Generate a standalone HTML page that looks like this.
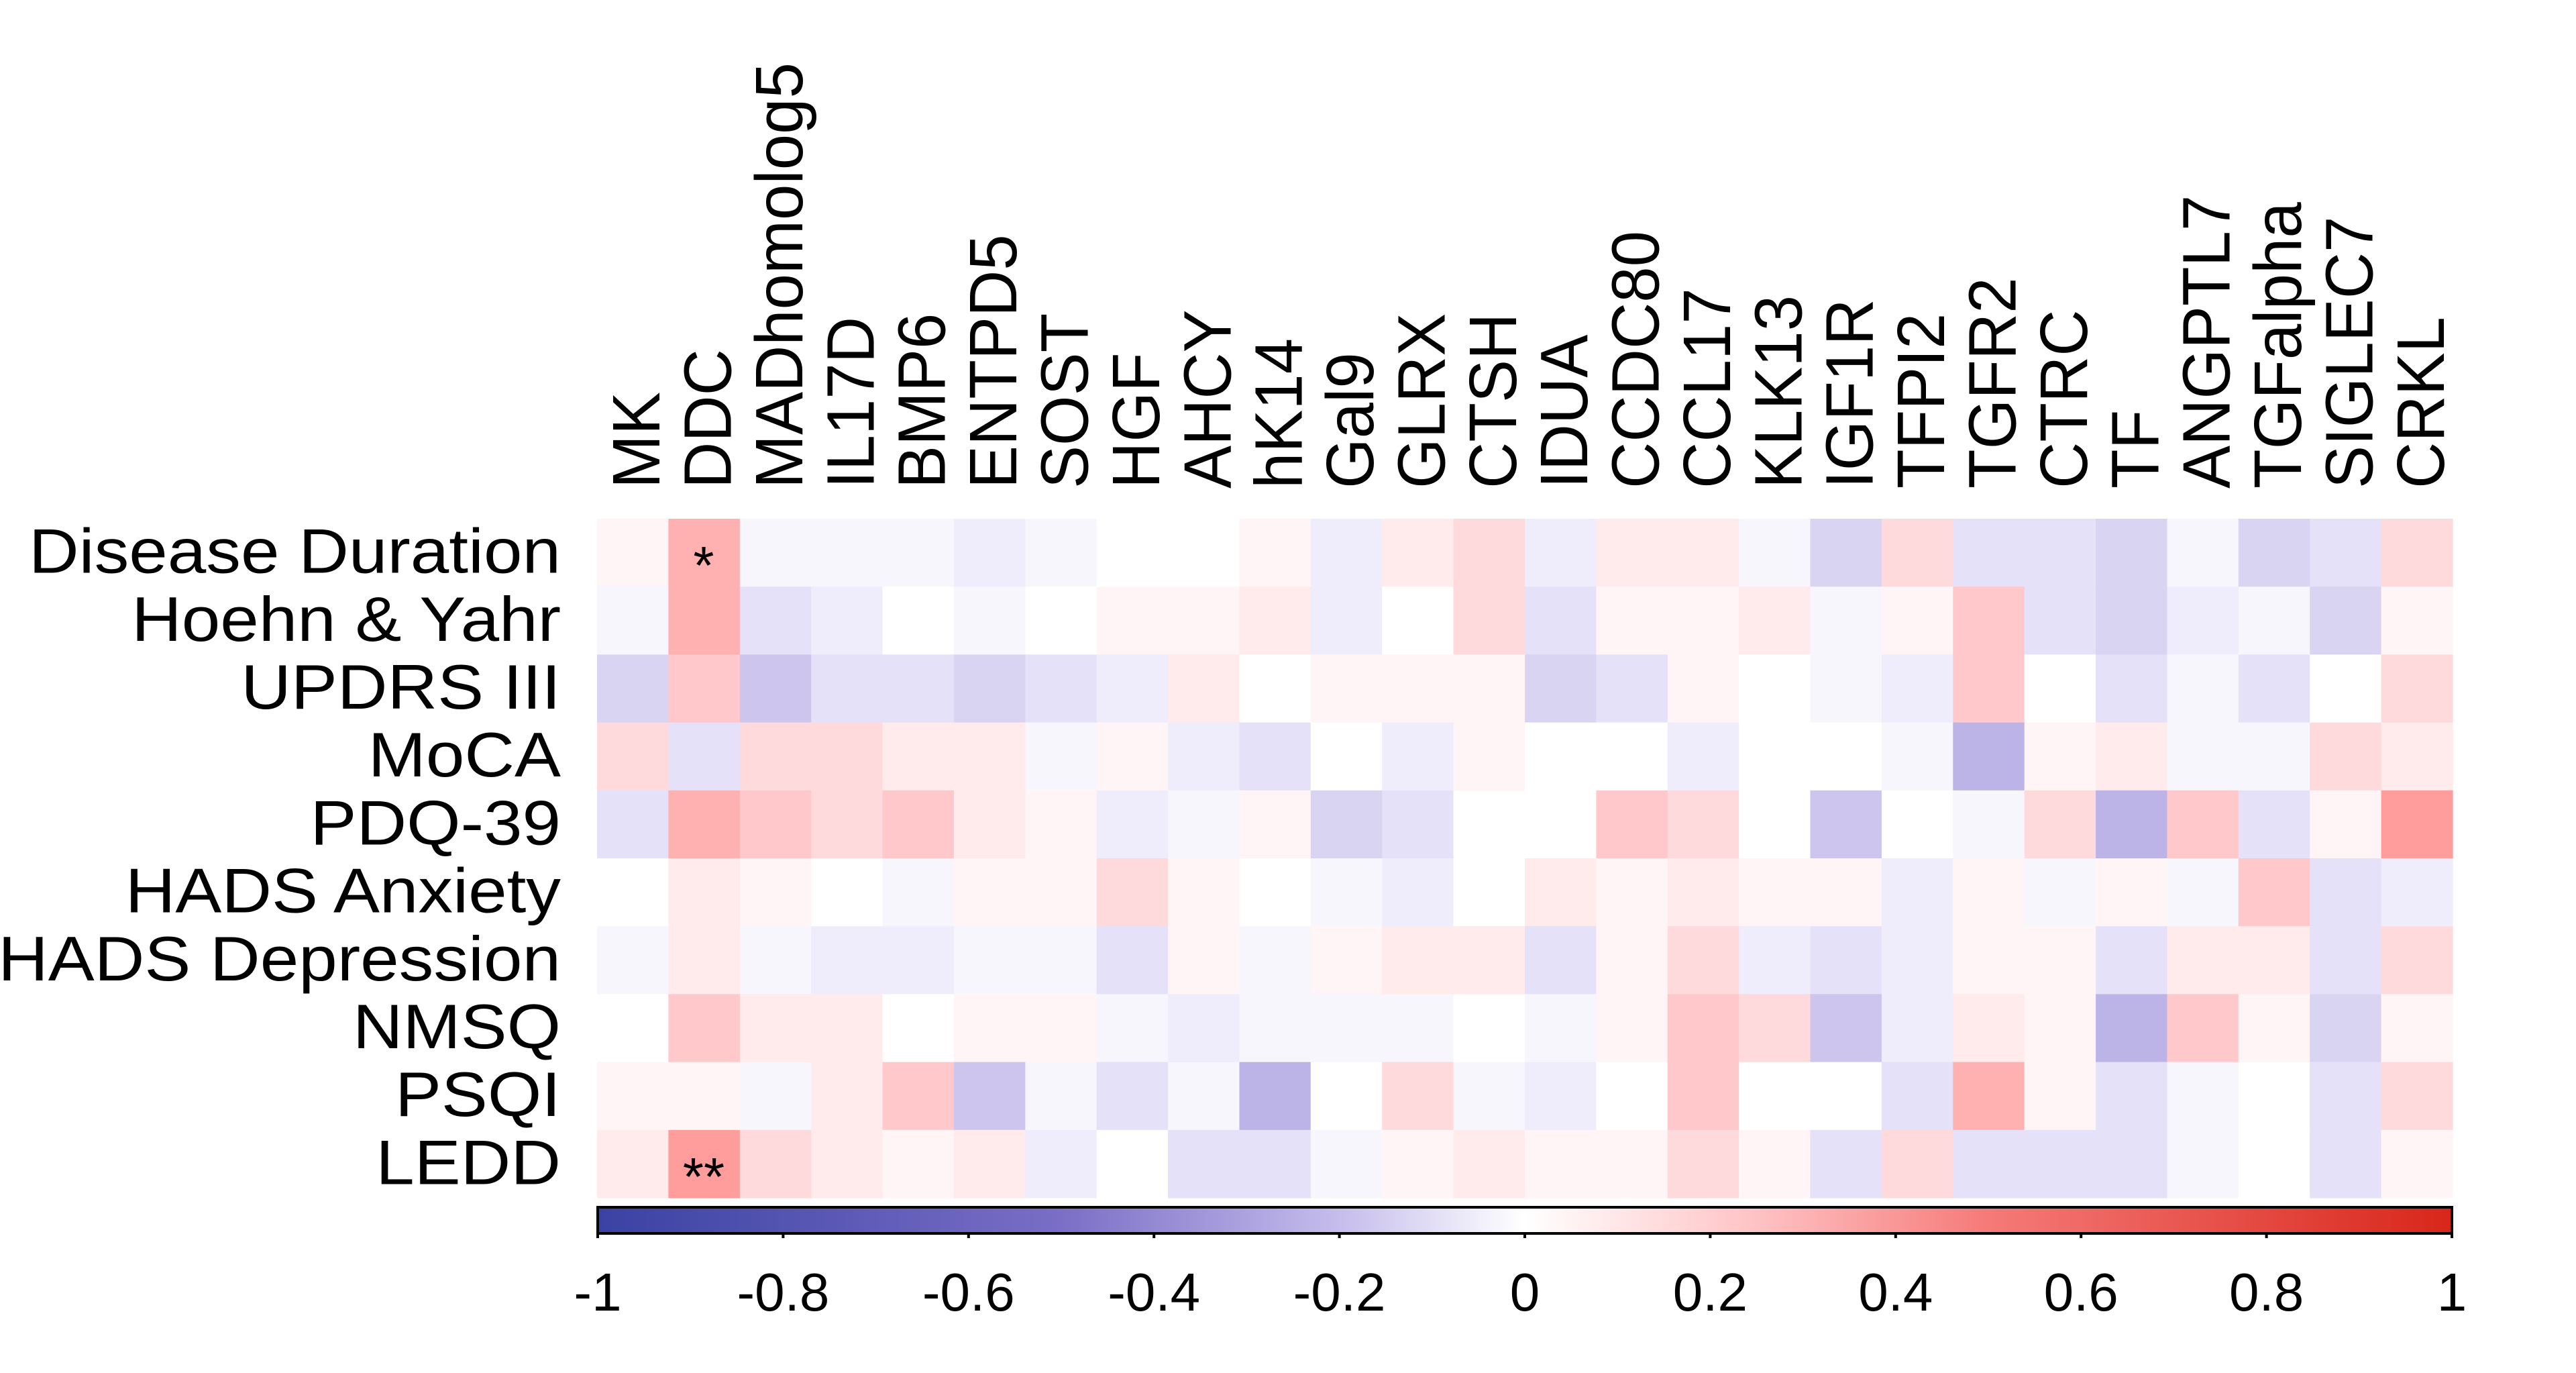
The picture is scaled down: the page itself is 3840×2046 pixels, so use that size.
<!DOCTYPE html>
<html><head><meta charset="utf-8"><style>html,body{margin:0;padding:0;background:#fff}svg{display:block}</style></head>
<body>
<svg id="s" width="3840" height="2046" viewBox="0 0 3840 2046" xmlns="http://www.w3.org/2000/svg" font-family="Liberation Sans, Arial, sans-serif">
<defs>
<linearGradient id="cb" x1="0" x2="1" y1="0" y2="0">
<stop offset="0" stop-color="#3a42a3"/>
<stop offset="0.25" stop-color="#7a6ec6"/>
<stop offset="0.4" stop-color="#c6bdec"/>
<stop offset="0.5" stop-color="#ffffff"/>
<stop offset="0.62" stop-color="#ffc5c7"/>
<stop offset="0.75" stop-color="#f57a78"/>
<stop offset="1" stop-color="#d8261a"/>
</linearGradient>
</defs>
<g id="cells"></g>
<g id="labels" fill="#000"></g>
<rect x="891" y="1799" width="2764" height="39" fill="url(#cb)" stroke="#000" stroke-width="4"/>
<g id="cbar" fill="#000" font-size="80" text-anchor="middle"></g>
<text x="1049" y="870" font-size="80" text-anchor="middle">*</text>
<text x="1049" y="1781" font-size="80" text-anchor="middle">**</text>
</svg>
<script>
var C={R4:"#ff9d9d",R3:"#ffb1b2",R2:"#ffc8cb",R1:"#ffdadd",R0:"#ffeaec",r:"#fff5f6",W:"#ffffff",b:"#f7f6fd",B0:"#efedfb",B1:"#e5e1f8",B2:"#dad4f3",B3:"#cdc5ee",B4:"#bcb3e6"};
var rows=[
"r R3 b b b B0 b W W r B0 R0 R1 B0 R0 R0 b B2 R1 B1 B1 B2 b B2 B1 R1",
"b R3 B1 B0 W b W r r R0 B0 W R1 B1 r r R0 b r R2 B1 B2 B0 b B2 r",
"B2 R2 B3 B1 B1 B2 B1 B0 R0 W r r r B2 B1 r W b B0 R2 W B1 b B1 W R1",
"R1 B1 R1 R1 R0 R0 b r B0 B1 W B0 r W W B0 W W b B4 r R0 b b R1 R0",
"B1 R3 R2 R1 R2 R0 r B0 b r B2 B1 W W R2 R1 W B3 W b R1 B4 R2 B1 r R4",
"W R0 r W b r r R1 r W b B0 W R0 r R0 r r B0 r b r b R2 B1 B0",
"b R0 b B0 B0 b b B1 r b r R0 R0 B1 r R1 B0 B1 B0 r r B1 R0 R0 B1 R1",
"W R2 R0 R0 W r r b B0 b b b W b r R2 R1 B3 B0 R0 r B4 R2 r B2 r",
"r r b R0 R2 B3 b B1 b B4 W R1 b B0 W R2 W W B1 R3 r B1 b W B1 R1",
"R0 R4 R1 R0 r R0 B0 W B1 B1 b r R0 r r R1 r B1 R1 B1 B1 B1 b W B1 r"];
var NS="http://www.w3.org/2000/svg",g=document.getElementById("cells");
var cw=2766/26,ch=101.2,x0=890,y0=773;
rows.forEach(function(row,j){row.split(" ").forEach(function(k,i){
var r=document.createElementNS(NS,"rect");
r.setAttribute("x",(x0+i*cw).toFixed(1));r.setAttribute("y",(y0+j*ch).toFixed(1));
r.setAttribute("width",(cw+0.6).toFixed(1));r.setAttribute("height",(ch+0.6).toFixed(1));
r.setAttribute("fill",C[k]);g.appendChild(r);});});
var L=document.getElementById("labels");
var rl=["Disease Duration","Hoehn & Yahr","UPDRS III","MoCA","PDQ-39","HADS Anxiety","HADS Depression","NMSQ","PSQI","LEDD"];
rl.forEach(function(t,j){var e=document.createElementNS(NS,"text");
e.setAttribute("transform","translate(836,"+(y0+(j+0.5)*ch+30).toFixed(1)+") scale(1.1,1)");
e.setAttribute("font-size","94");e.setAttribute("text-anchor","end");e.textContent=t;L.appendChild(e);});
var cl=["MK","DDC","MADhomolog5","IL17D","BMP6","ENTPD5","SOST","HGF","AHCY","hK14","Gal9","GLRX","CTSH","IDUA","CCDC80","CCL17","KLK13","IGF1R","TFPI2","TGFR2","CTRC","TF","ANGPTL7","TGFalpha","SIGLEC7","CRKL"];
cl.forEach(function(t,i){var e=document.createElementNS(NS,"text");
var x=x0+(i+0.5)*cw+40;
e.setAttribute("transform","translate("+x.toFixed(1)+",728) rotate(-90) scale(1,1.04)");
e.setAttribute("font-size","96");e.textContent=t;L.appendChild(e);});
var cb=document.getElementById("cbar");
for(var k=0;k<=10;k++){var v=-1+k*0.2;var x=891+k*276.4;
var tk=document.createElementNS(NS,"line");tk.setAttribute("x1",x);tk.setAttribute("x2",x);tk.setAttribute("y1",1838);tk.setAttribute("y2",1845);tk.setAttribute("stroke","#000");tk.setAttribute("stroke-width","4");cb.appendChild(tk);
var s=(Math.abs(v)<1e-9)?"0":(Math.round(v*10)/10).toString();
var e=document.createElementNS(NS,"text");e.setAttribute("x",x);e.setAttribute("y",1953);e.textContent=s;cb.appendChild(e);}
</script>
</body></html>
